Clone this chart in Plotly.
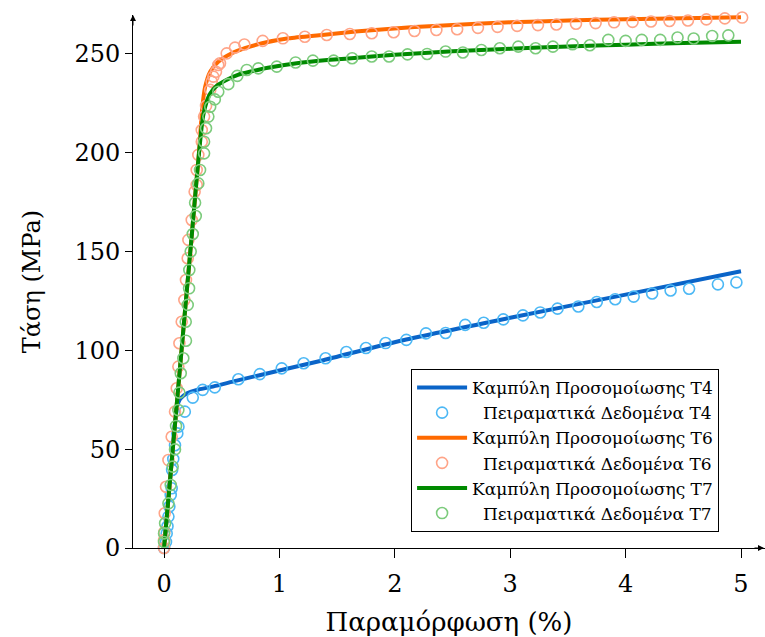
import plotly.graph_objects as go

# ---- Simulation curves ----
t4_line_x = [0, 0.05, 0.10, 0.115, 0.14, 0.20, 0.30, 0.43, 0.63, 1.00, 1.38, 2.05, 3.00, 4.00, 5.00]
t4_line_y = [0, 33, 66, 72, 75.5, 78.3, 80.2, 81.8, 84.7, 89.8, 95.0, 104.9, 116.5, 128.2, 140.0]

t6_line_x = [0, 0.05, 0.10, 0.15, 0.20, 0.24, 0.28, 0.30, 0.33, 0.355, 0.40, 0.47, 0.587, 0.70, 0.85,
             1.08, 1.37, 1.66, 1.94, 2.17, 2.50, 3.00, 3.50, 4.00, 4.50, 5.00]
t6_line_y = [0, 33, 66, 99, 132, 158, 185, 198, 222, 233, 241, 246, 250.3, 252.9, 255.4,
             257.9, 259.6, 261.3, 262.6, 263.6, 264.7, 266.0, 266.9, 267.6, 268.1, 268.6]

t7_line_x = [0, 0.05, 0.10, 0.15, 0.20, 0.24, 0.28, 0.30, 0.32, 0.34, 0.37, 0.40, 0.45, 0.54, 0.64,
             0.76, 0.90, 1.15, 1.44, 1.70, 2.00, 2.50, 3.00, 3.50, 4.00, 4.50, 5.00]
t7_line_y = [0, 33, 66, 99, 132, 158, 185, 198, 210, 219, 226, 230, 233.5, 236.8, 239.4,
             241.2, 243.0, 245.3, 247.0, 248.2, 249.6, 251.3, 252.6, 253.8, 254.7, 255.5, 256.2]

t4_data_x = [0.0, 0.017, 0.023, 0.030, 0.038, 0.046, 0.058, 0.066, 0.070, 0.080, 0.095, 0.115, 0.125,
             0.18, 0.249, 0.335, 0.44, 0.644, 0.83, 1.02, 1.21, 1.40, 1.58, 1.75, 1.92, 2.10, 2.27,
             2.44, 2.61, 2.77, 2.94, 3.11, 3.26, 3.41, 3.59, 3.75, 3.91, 4.07, 4.23, 4.39, 4.55,
             4.80, 4.96]
t4_data_y = [0, 3, 7.4, 11, 15.9, 21, 26.8, 30.2, 39.5, 45, 52, 58, 61.4,
             69, 76.1, 80, 81.3, 85.4, 88, 90.9, 93.5, 96, 99.2, 101.2, 103.7, 105.3, 108.6,
             108.8, 112.9, 114, 115.7, 117.7, 119.2, 121.1, 122.2, 124.5, 125.9, 127.2, 128.8, 130.3, 131.2,
             133.4, 134.4]

t6_data_x = [0.0, 0.0, 0.002, 0.006, 0.017, 0.038, 0.066, 0.095, 0.110, 0.124, 0.133, 0.153, 0.176,
             0.190, 0.205, 0.211, 0.240, 0.265, 0.283, 0.283, 0.297, 0.327, 0.327, 0.347, 0.364,
             0.400, 0.413, 0.427, 0.450, 0.470, 0.485, 0.543, 0.615, 0.696, 0.855, 1.03, 1.22,
             1.41, 1.61, 1.80, 1.99, 2.17, 2.36, 2.54, 2.72, 2.89, 3.06, 3.24, 3.40, 3.57, 3.74,
             3.90, 4.06, 4.22, 4.38, 4.54, 4.70, 4.86, 5.01]
t6_data_y = [0, 4, 8, 17.6, 31, 44.5, 56.3, 69, 80.8, 91.8, 103.6, 114.5, 125.5,
             135.6, 146.6, 155.9, 166, 180.3, 183.7, 191.3, 198.9, 205.6, 211.5, 218.3, 223.7,
             231.8, 236, 238.5, 241, 244.4, 245.3, 250.3, 253.2, 254.8, 256.6, 257.9, 258.7,
             259.6, 260.1, 260.5, 261.0, 261.6, 262.1, 262.5, 263.2, 263.7, 264.2, 264.6, 264.9, 265.3, 265.6,
             266.0, 266.2, 266.4, 266.7, 266.9, 267.5, 268.0, 268.4]

t7_data_x = [0.0, 0.0, 0.009, 0.038, 0.058, 0.075, 0.095, 0.104, 0.124, 0.133, 0.145, 0.167, 0.190,
             0.188, 0.205, 0.217, 0.219, 0.231, 0.249, 0.275, 0.269, 0.297, 0.312, 0.347, 0.347,
             0.364, 0.384, 0.400, 0.440, 0.470, 0.557, 0.635, 0.717, 0.817, 0.977, 1.14, 1.29,
             1.47, 1.63, 1.80, 1.95, 2.11, 2.28, 2.44, 2.59, 2.75, 2.91, 3.07, 3.22, 3.37, 3.54,
             3.69, 3.85, 4.00, 4.14, 4.30, 4.45, 4.59, 4.75, 4.89]
t7_data_y = [3, 7.4, 12.5, 22.6, 31.9, 41.2, 49.9, 61.7, 69.8, 78.6, 88.4, 96, 104.9,
             114.5, 123, 131.4, 140.7, 150, 158.9, 168, 174.7, 184.5, 191.3, 199.7, 205.6,
             212.4, 218.3, 223.3, 227, 230.9, 234.7, 238.9, 241.9, 242.7, 243.6, 245.7, 246.6,
             246.6, 247.8, 248.7, 248.7, 249.8, 250.0, 251.2, 250.7, 252.0, 252.9, 253.7, 252.9, 253.7, 254.9,
             254.4, 257.1, 256.6, 257.1, 257.1, 258.3, 257.8, 259.1, 259.4]

x_ticks = [0, 1, 2, 3, 4, 5]
y_ticks = [0, 50, 100, 150, 200, 250]

names = ["Καμπύλη Προσομοίωσης Τ4", "Πειραματικά Δεδομένα Τ4",
         "Καμπύλη Προσομοίωσης Τ6", "Πειραματικά Δεδομένα Τ6",
         "Καμπύλη Προσομοίωσης Τ7", "Πειραματικά Δεδομένα Τ7"]

FONT = "DejaVu Serif"
pad = "\u00a0\u00a0"

fig = go.Figure()

def add_pair(lx, ly, dx, dy, lcol, mcol, lname, dname):
    fig.add_trace(go.Scatter(x=lx, y=ly, mode="lines", name=lname,
                             line=dict(color=lcol, width=4, shape="spline", smoothing=0.6),
                             cliponaxis=False))
    fig.add_trace(go.Scatter(x=dx, y=dy, mode="markers", name=pad + dname,
                             marker=dict(symbol="circle-open", size=11, color=mcol,
                                         line=dict(width=1.6, color=mcol)),
                             cliponaxis=False))

add_pair(t4_line_x, t4_line_y, t4_data_x, t4_data_y, "#0a64c8", "#4cb8f5", names[0], names[1])
add_pair(t6_line_x, t6_line_y, t6_data_x, t6_data_y, "#ff6a00", "#ffa488", names[2], names[3])
add_pair(t7_line_x, t7_line_y, t7_data_x, t7_data_y, "#008a00", "#7ccb7c", names[4], names[5])

fig.update_layout(
    width=765, height=637,
    margin=dict(l=133, r=0, t=15, b=89),
    paper_bgcolor="white", plot_bgcolor="white",
    font=dict(family=FONT, color="black", size=24),
    showlegend=True,
    legend=dict(x=0.44, y=0.03, xanchor="left", yanchor="bottom",
                bgcolor="white", bordercolor="black", borderwidth=1,
                font=dict(family=FONT, size=17, color="black"),
                tracegroupgap=0, itemwidth=50),
)
fig.update_xaxes(range=[-0.269, 5.208], tickvals=x_ticks, ticktext=[str(v) for v in x_ticks],
                 showgrid=False, zeroline=False, showline=True, linecolor="black", linewidth=1,
                 ticks="outside", ticklen=9, tickcolor="black", tickwidth=1,
                 ticklabelstandoff=5,
                 title=dict(text="Παραμόρφωση (%)", font=dict(family=FONT, size=26), standoff=19))
fig.update_yaxes(range=[0, 269.7], tickvals=y_ticks, ticktext=[str(v) for v in y_ticks],
                 showgrid=False, zeroline=False, showline=True, linecolor="black", linewidth=1,
                 ticks="outside", ticklen=7, tickcolor="black", tickwidth=1,
                 title=dict(text="Τάση (MPa)", font=dict(family=FONT, size=24), standoff=26))

# axis arrows
fig.add_annotation(x=0, y=1, xref="paper", yref="paper", ax=0, ay=12, axref="pixel", ayref="pixel",
                   showarrow=True, arrowhead=2, arrowsize=1.2, arrowwidth=1, arrowcolor="black", text="")
fig.add_annotation(x=1, y=0, xref="paper", yref="paper", ax=-12, ay=0, axref="pixel", ayref="pixel",
                   showarrow=True, arrowhead=2, arrowsize=1.2, arrowwidth=1, arrowcolor="black", text="")

fig.write_html("out.html")
